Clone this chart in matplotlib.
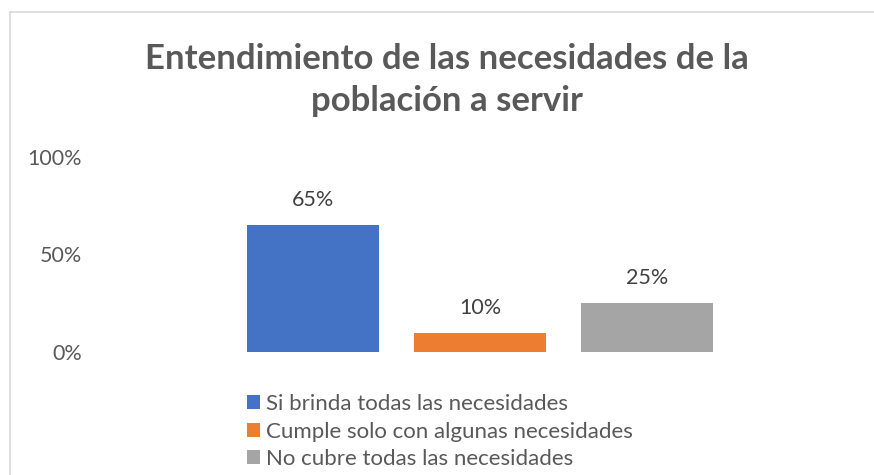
import matplotlib.pyplot as plt
from matplotlib.lines import Line2D
from matplotlib.patches import Patch

# Survey results: understanding of the needs of the served population
categorias = [
    "Si brinda todas las necesidades",
    "Cumple solo con algunas necesidades",
    "No cubre todas las necesidades",
]
valores = [0.65, 0.10, 0.25]
colores = ["#4472C4", "#ED7D31", "#A5A5A5"]
ticks_y = [0, 0.5, 1.0]
etiquetas_y = ["0%", "50%", "100%"]
titulo = "Entendimiento de las necesidades de la\npoblación a servir"

plt.rcParams["font.family"] = ["Lato", "DejaVu Sans"]

W, H = 874, 475
fig = plt.figure(figsize=(W / 100, H / 100), dpi=100)
fig.patch.set_facecolor("white")

# plot area placed in pixel units
x0, x1 = 90, 870
y_top, y_bot = 157, 352
ax = fig.add_axes([x0 / W, (H - y_bot) / H, (x1 - x0) / W, (y_bot - y_top) / H])

pos = list(range(len(valores)))
bars = ax.bar(pos, valores, width=0.79, color=colores)
ax.set_xlim(-1.33, 3.33)
ax.set_ylim(0, 1)

for b, v in zip(bars, valores):
    ax.annotate(f"{v:.0%}", xy=(b.get_x() + b.get_width() / 2, v),
                xytext=(0, 18), textcoords="offset points",
                ha="center", va="center", fontsize=15.5, color="#404040")

ax.set_yticks(ticks_y)
ax.set_yticklabels(etiquetas_y, fontsize=15.5, color="#595959")
ax.tick_params(axis="y", length=0, pad=6)
ax.set_xticks([])
for s in ax.spines.values():
    s.set_visible(False)

fig.text(447 / W, (H - 80) / H, titulo, ha="center", va="center",
         fontsize=25, fontweight="bold", color="#595959", linespacing=1.35)

# chart frame (left and top edges)
fig.add_artist(Line2D([10 / W, 10 / W], [0, (H - 12) / H], color="#d9d9d9", lw=1.2))
fig.add_artist(Line2D([10 / W, 1], [(H - 12) / H, (H - 12) / H], color="#d9d9d9", lw=1.2))

handles = [Patch(facecolor=c, edgecolor="none") for c in colores]
leg = fig.legend(handles, categorias, loc="upper left",
                 bbox_to_anchor=(247 / W, (H - 394) / H),
                 frameon=False, fontsize=16, borderpad=0, borderaxespad=0,
                 handlelength=0.6, handleheight=0.6, handletextpad=0.25,
                 labelspacing=0.34)
for t in leg.get_texts():
    t.set_color("#595959")

fig.savefig("out.png", dpi=100)
